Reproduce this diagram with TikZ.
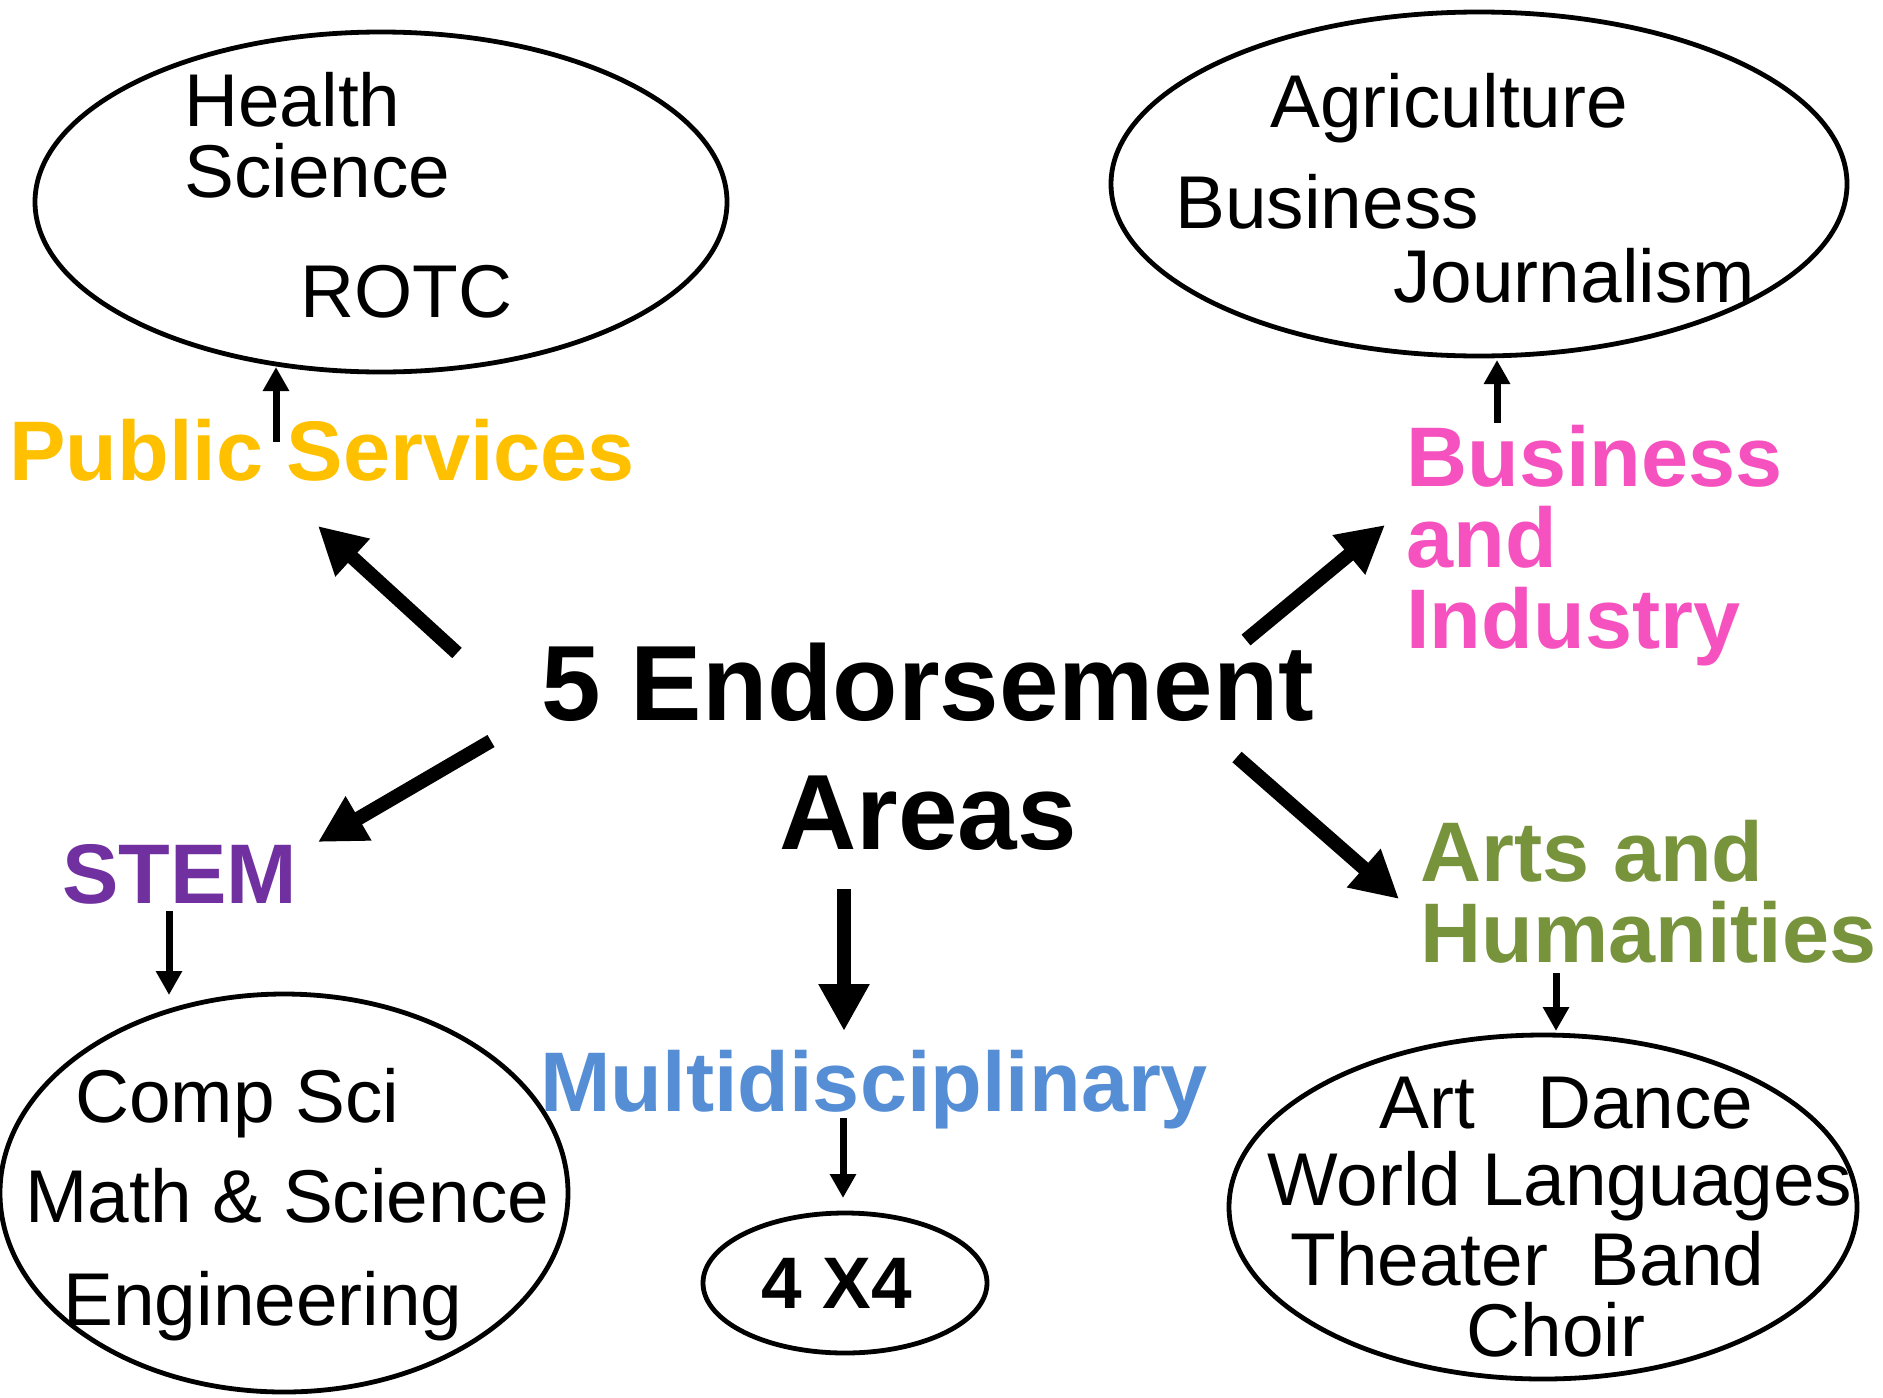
\documentclass[tikz,border=0pt]{standalone}
\usepackage{fontspec}
\setmainfont{Liberation Sans}
\usetikzlibrary{arrows.meta,shapes.geometric}
\definecolor{pubcol}{HTML}{FFC000}
\definecolor{bizcol}{HTML}{F552C0}
\definecolor{stemcol}{HTML}{7030A0}
\definecolor{multicol}{HTML}{558ED5}
\definecolor{artscol}{HTML}{77933C}
\begin{document}
\begin{tikzpicture}[x=0.5pt,y=-0.5pt,
  oval/.style={draw,ellipse,line width=2.4pt,inner sep=0pt},
  item/.style={anchor=base west,inner sep=0pt,font=\fontsize{37.4}{44}\selectfont},
  lbl/.style={anchor=base west,inner sep=0pt,font=\bfseries\fontsize{42.3}{40.5}\selectfont},
  bigarrow/.style={line width=7pt,-{Triangle[length=23.5pt,width=24pt]}},
  smallarrow/.style={line width=3.5pt,-{Triangle[length=12pt,width=12.5pt]}}]
\useasboundingbox (0,0) rectangle (1883,1397);

% ellipses
\node[oval,minimum width=346pt,minimum height=170pt] (e1) at (381,202) {};
\node[oval,minimum width=368pt,minimum height=172pt] (e2) at (1479,184) {};
\node[oval,minimum width=284pt,minimum height=199pt] (e3) at (284,1193) {};
\node[oval,minimum width=142pt,minimum height=70pt] (e4) at (845,1283) {};
\node[oval,minimum width=314pt,minimum height=172pt] (e5) at (1543,1207) {};

% ellipse contents
\node[item] (health) at (184,126) {Health};
\node[item] (science) at (184,197) {Science};
\node[item] (rotc) at (300,317) {ROTC};

\node[item] (agri) at (1270,127) {Agriculture};
\node[item] (busi) at (1175,228) {Business};
\node[item] (journ) at (1393,302) {Journalism};

\node[item] (comp) at (75,1122) {Comp Sci};
\node[item] (math) at (25,1222) {Math \& Science};
\node[item] (eng) at (63,1325) {Engineering};

\node[item] (artd) at (1379,1128) {Art~~~Dance};
\node[item] (world) at (1267,1205) {World Languages};
\node[item] (theat) at (1290,1285) {Theater~~Band};
\node[item] (choir) at (1466,1356) {Choir};

\node[anchor=base,inner sep=0pt,font=\bfseries\fontsize{36.5}{44}\selectfont] (fx4) at (837,1308) {4 X4};

% labels
\node[lbl,text=pubcol] (pub) at (9,480) {Public Services};
\node[lbl,text=bizcol] (biz) at (1406,486) {\vtop{\hbox{Business}\hbox{and}\hbox{Industry}}};
\node[lbl,text=artscol] (arts) at (1420,881) {\vtop{\hbox{Arts and}\hbox{Humanities}}};
\node[lbl,text=stemcol] (stem) at (62,903) {STEM};
\node[lbl,text=multicol] (multi) at (540,1111) {Multidisciplinary};

% centre
\node[anchor=base,inner sep=0pt,font=\bfseries\fontsize{53.5}{64.5}\selectfont] (centre) at (928,720)
  {\begin{tabular}[t]{@{}c@{}}5 Endorsement\\Areas\end{tabular}};

% connector end points
\coordinate (a1s) at (457,653); \coordinate (a1e) at (318,526);
\coordinate (a2s) at (491,741); \coordinate (a2e) at (318,842);
\coordinate (a3s) at (1246,640); \coordinate (a3e) at (1385,525);
\coordinate (a4s) at (1237,757); \coordinate (a4e) at (1399,899);
\coordinate (a5s) at (844,889); \coordinate (a5e) at (844,1031);

\coordinate (s1s) at (276,442); \coordinate (s1e) at (276,367);
\coordinate (s2s) at (1497,423); \coordinate (s2e) at (1497,360);
\coordinate (s3s) at (169,911); \coordinate (s3e) at (169,995);
\coordinate (s4s) at (843,1118); \coordinate (s4e) at (843,1198);
\coordinate (s5s) at (1556,973); \coordinate (s5e) at (1556,1031);

\draw[bigarrow] (a1s) -- (a1e);
\draw[bigarrow] (a2s) -- (a2e);
\draw[bigarrow] (a3s) -- (a3e);
\draw[bigarrow] (a4s) -- (a4e);
\draw[bigarrow] (a5s) -- (a5e);

\draw[smallarrow] (s1s) -- (s1e);
\draw[smallarrow] (s2s) -- (s2e);
\draw[smallarrow] (s3s) -- (s3e);
\draw[smallarrow] (s4s) -- (s4e);
\draw[smallarrow] (s5s) -- (s5e);
\end{tikzpicture}
\end{document}
